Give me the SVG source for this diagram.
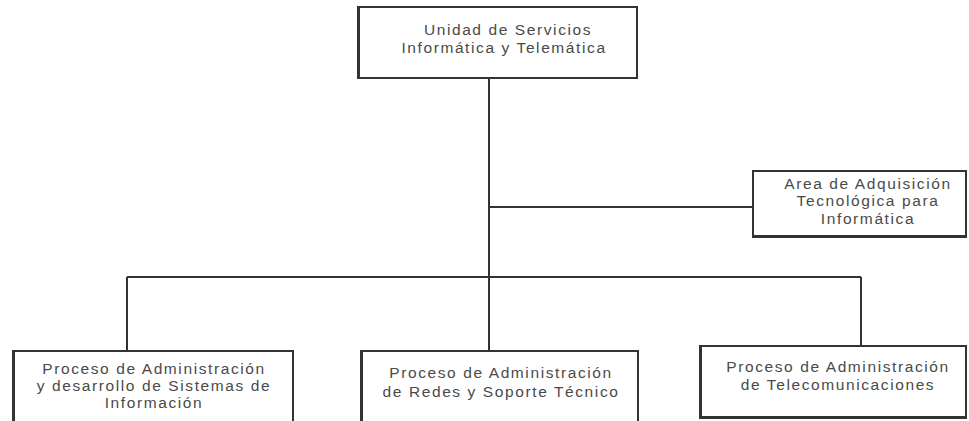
<svg xmlns="http://www.w3.org/2000/svg" width="969" height="421" viewBox="0 0 969 421">
<style>
.box{fill:#fff;stroke:#333;stroke-width:2}
.edge{stroke:#333;stroke-width:2;fill:none}
.shade{stroke:#333;stroke-width:3;fill:none}
text{font-family:"Liberation Sans",Arial,sans-serif;font-size:15.5px;fill:#4a4a4a;text-anchor:middle;letter-spacing:1.6px}
</style>
<rect width="969" height="421" fill="#fff"/>
<g id="connectors">
<line class="edge" x1="489" y1="78" x2="489" y2="351"/>
<line class="edge" x1="489" y1="207" x2="753" y2="207"/>
<line class="edge" x1="127" y1="277" x2="861" y2="277"/>
<line class="edge" x1="127" y1="277" x2="127" y2="351"/>
<line class="edge" x1="861" y1="277" x2="861" y2="346"/>
</g>
<g id="unidad">
<rect class="box" x="358" y="7" width="279" height="71"/>
<line class="shade" x1="358.5" y1="7" x2="358.5" y2="78"/>
<text x="508" y="35">Unidad de Servicios</text>
<text x="504" y="53">Informática y Telemática</text>
</g>
<g id="area">
<rect class="box" x="753" y="171" width="213" height="66"/>
<line class="shade" x1="753" y1="236.5" x2="966" y2="236.5"/>
<text x="868" y="189">Area de Adquisición</text>
<text x="868" y="206">Tecnológica para</text>
<text x="868" y="224">Informática</text>
</g>
<g id="proc-sistemas">
<rect class="box" x="13" y="351" width="280" height="80"/>
<line class="shade" x1="13.5" y1="351" x2="13.5" y2="421"/>
<text x="154" y="374">Proceso de Administración</text>
<text x="154" y="391">y desarrollo de Sistemas de</text>
<text x="154" y="408">Información</text>
</g>
<g id="proc-redes">
<rect class="box" x="361" y="351" width="277" height="80"/>
<line class="shade" x1="361.5" y1="351" x2="361.5" y2="421"/>
<text x="501" y="378">Proceso de Administración</text>
<text x="501" y="397">de Redes y Soporte Técnico</text>
</g>
<g id="proc-telecom">
<rect class="box" x="700" y="346" width="266" height="72"/>
<line class="shade" x1="700.5" y1="346" x2="700.5" y2="418"/>
<line class="shade" x1="700" y1="417.5" x2="966" y2="417.5"/>
<text x="838" y="372">Proceso de Administración</text>
<text x="838" y="390">de Telecomunicaciones</text>
</g>
</svg>
